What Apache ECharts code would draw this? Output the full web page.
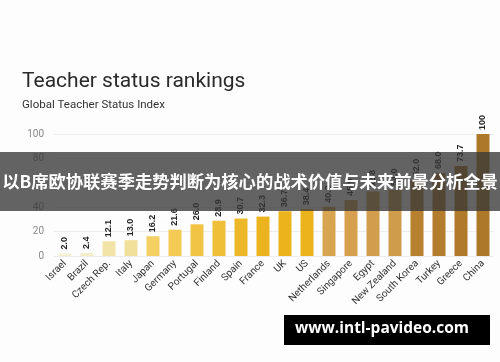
<!DOCTYPE html>
<html>
<head>
<meta charset="utf-8">
<script src="https://cdn.jsdelivr.net/npm/echarts@6/dist/echarts.min.js"></script>
<style>html,body{margin:0;padding:0;background:#fdfdfd;}#c{width:500px;height:362px;}</style>
</head>
<body>
<div id="c"></div>
<script>
const countries = ["Israel","Brazil","Czech Rep.","Italy","Japan","Germany","Portugal","Finland","Spain","France","UK","US","Netherlands","Singapore","Egypt","New Zealand","South Korea","Turkey","Greece","China"];
const values = [2.0,2.4,12.1,13.0,16.2,21.6,26.0,28.9,30.7,32.3,36.7,38.4,40.3,45.9,52.8,54.0,62.0,68.0,73.7,100];
const barColors = ["#f4efcf","#f3edc8","#f2e4a6","#f1e09c","#f4cf62","#f4ca54","#f2c446","#efbf38","#edb827","#ebb31d","#ebb31c","#ebb31c","#d7a44f","#d6a04e","#d29e4e","#cf9c4c","#b8812f","#b47d2d","#b0792b","#ae782a"];
const yTicks = [0,20,40,60,80,100];

const chart = echarts.init(document.getElementById('c'));
chart.setOption({
  backgroundColor: '#fdfdfd',
  animation: false,
  title: {
    text: 'Teacher status rankings',
    subtext: 'Global Teacher Status Index',
    left: 17, top: 66,
    itemGap: 7,
    textStyle: {fontFamily: 'Roboto', fontSize: 21, fontWeight: 'normal', color: '#2a2a2a'},
    subtextStyle: {fontFamily: 'Roboto', fontSize: 11.5, color: '#333'}
  },
  grid: {left: 54, right: 6, top: 134, bottom: 106},
  xAxis: {
    type: 'category',
    data: countries,
    axisLine: {show: false},
    axisTick: {show: false},
    axisLabel: {rotate: 45, interval: 0, fontFamily: 'Roboto', fontSize: 10, color: '#333', margin: 6}
  },
  yAxis: {
    type: 'value',
    min: yTicks[0], max: yTicks[yTicks.length-1], interval: 20,
    axisLabel: {fontFamily: 'Roboto', fontSize: 10, color: '#888', margin: 10},
    splitLine: {lineStyle: {color: '#ececec'}},
    axisLine: {show: false}, axisTick: {show: false}
  },
  series: [{
    type: 'bar',
    barWidth: 13,
    data: values.map((v, i) => ({value: v, itemStyle: {color: barColors[i]}})),
    label: {
      show: true, position: 'top', rotate: 90, align: 'left', verticalAlign: 'middle',
      distance: 4, fontFamily: 'Liberation Sans', fontWeight: 'bold', fontSize: 9, color: '#222',
      formatter: p => p.value === 100 ? '100' : p.value.toFixed(1)
    }
  }],
  graphic: [
    {type: 'rect', left: 0, top: 152, shape: {width: 500, height: 59}, style: {fill: 'rgba(55,55,55,0.78)'}, z: 100},
    {type: 'text', left: 'center', top: 173, style: {text: '以B席欧协联赛季走势判断为核心的战术价值与未来前景分析全景', fill: '#fff', font: 'bold 17.3px "Noto Sans CJK SC"'}, z: 101},
    {type: 'rect', left: 284, top: 315, shape: {width: 206, height: 30}, style: {fill: '#000'}, z: 100},
    {type: 'text', left: 295, top: 321, style: {text: 'www.intl-pavideo.com', fill: '#fff', font: 'bold 15.5px "Open Sans"'}, z: 101}
  ]
});
</script>
</body>
</html>
